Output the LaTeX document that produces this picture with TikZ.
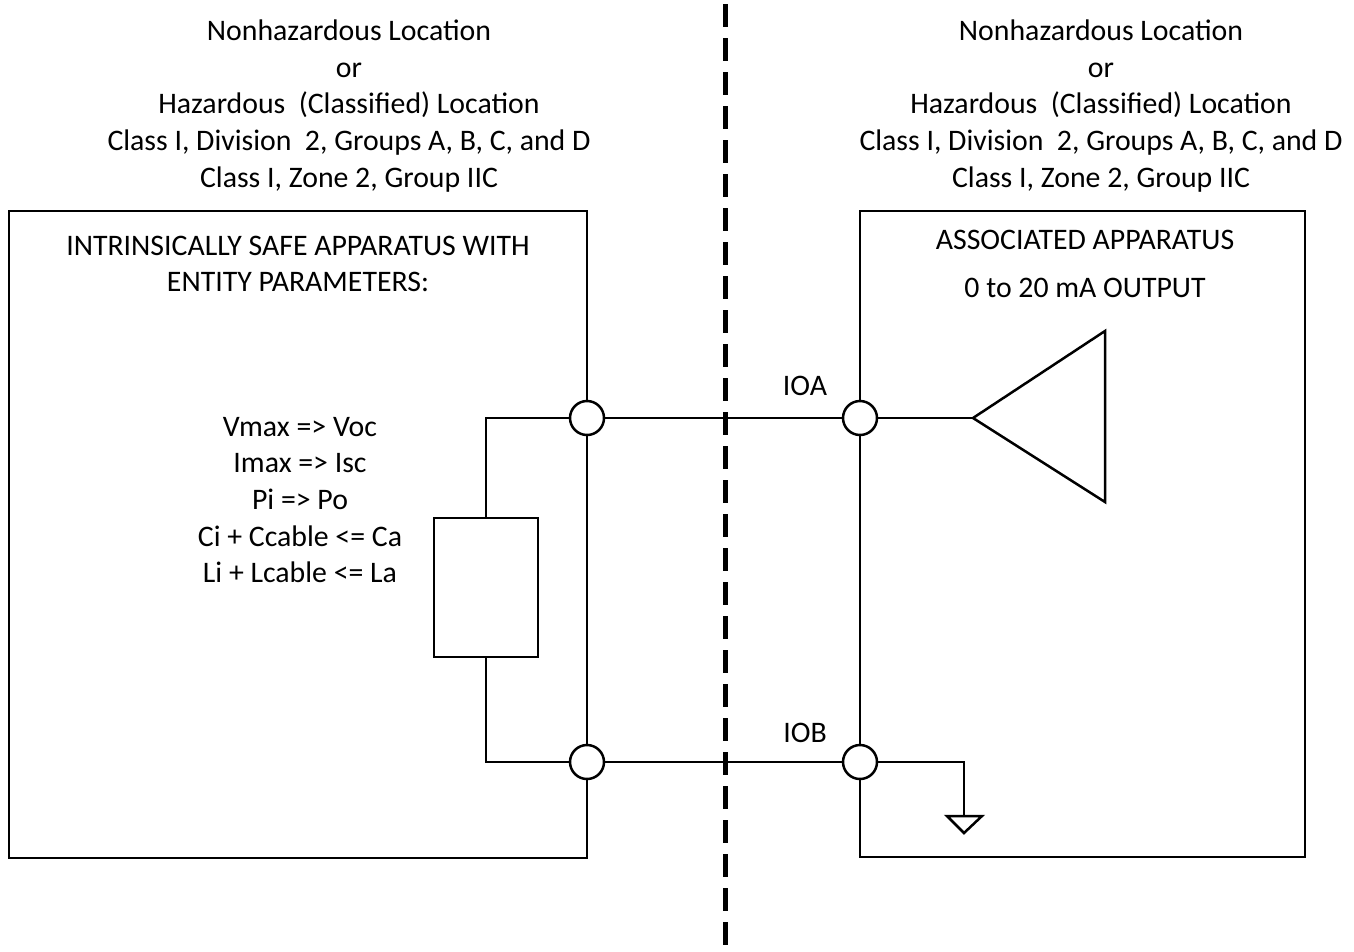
\documentclass[tikz,border=0pt]{standalone}
\usepackage{fontspec}
\setmainfont{Carlito}
\usetikzlibrary{positioning}
\tikzset{
  wire/.style={line width=2.5pt},
  term/.style={circle,draw,line width=2.5pt,fill=white,minimum size=34pt,inner sep=0pt},
  txt/.style={align=center,font=\fontsize{29.8}{36.7}\selectfont,inner sep=0pt}
}
\begin{document}
\begin{tikzpicture}[x=1pt,y=-1pt]
  \useasboundingbox (0,0) rectangle (1354,951);
  % location headers
  \node[txt] (hdrl) at (349,106) {Nonhazardous Location\\or\\Hazardous\ \ (Classified) Location\\Class I, Division\ \ 2, Groups A, B, C, and D\\Class I, Zone 2, Group IIC};
  \node[txt] (hdrr) at (1101,106) {Nonhazardous Location\\or\\Hazardous\ \ (Classified) Location\\Class I, Division\ \ 2, Groups A, B, C, and D\\Class I, Zone 2, Group IIC};
  % boundary
  \draw[line width=5pt,dash pattern=on 23pt off 11pt] (725,4) -- (725,945);
  % boxes
  \draw[line width=2pt] (9,211) rectangle (587,858);
  \draw[line width=2pt] (860,211) rectangle (1305,857);
  \node[txt] (isa) at (298,264) {INTRINSICALLY SAFE APPARATUS WITH\\ENTITY PARAMETERS:};
  \node[txt] (asa) at (1085,240) {ASSOCIATED APPARATUS};
  \node[txt] (out) at (1085,288) {0 to 20 mA OUTPUT};
  \node[txt] (eqs) at (300,500) {Vmax => Voc\\Imax => Isc\\Pi => Po\\Ci + Ccable <= Ca\\Li + Lcable <= La};
  % terminals
  \draw
    (587,418) node[term] (ta){}
    (587,762) node[term] (tb){}
    (860,418) node[term] (ia){}
    (860,762) node[term] (ib){};
  \node[txt] (ioa) at (805,386) {IOA};
  \node[txt] (iob) at (805,733) {IOB};
  % load
  \draw[line width=2pt] (434,518) rectangle (538,657);
  \coordinate (rtop) at (486,518);
  \coordinate (rbot) at (486,657);
  % amplifier and ground
  \coordinate (tip) at (973,418);
  \coordinate (gnd) at (964,816);
  \draw[wire] (tip) -- (1105,331) -- (1105,502) -- cycle;
  \draw[wire] (947,816) -- (982,816) -- (964,833) -- cycle;
  \begin{scope}[wire]
    \draw (ta) -- (ia);
    \draw (tb) -- (ib);
    \draw (ta) -| (rtop);
    \draw (tb) -| (rbot);
    \draw (ia) -- (tip);
    \draw (ib) -| (gnd);
    \draw (ta) -- (tb);
    \draw (ia) -- (ib);
  \end{scope}
\end{tikzpicture}
\end{document}
